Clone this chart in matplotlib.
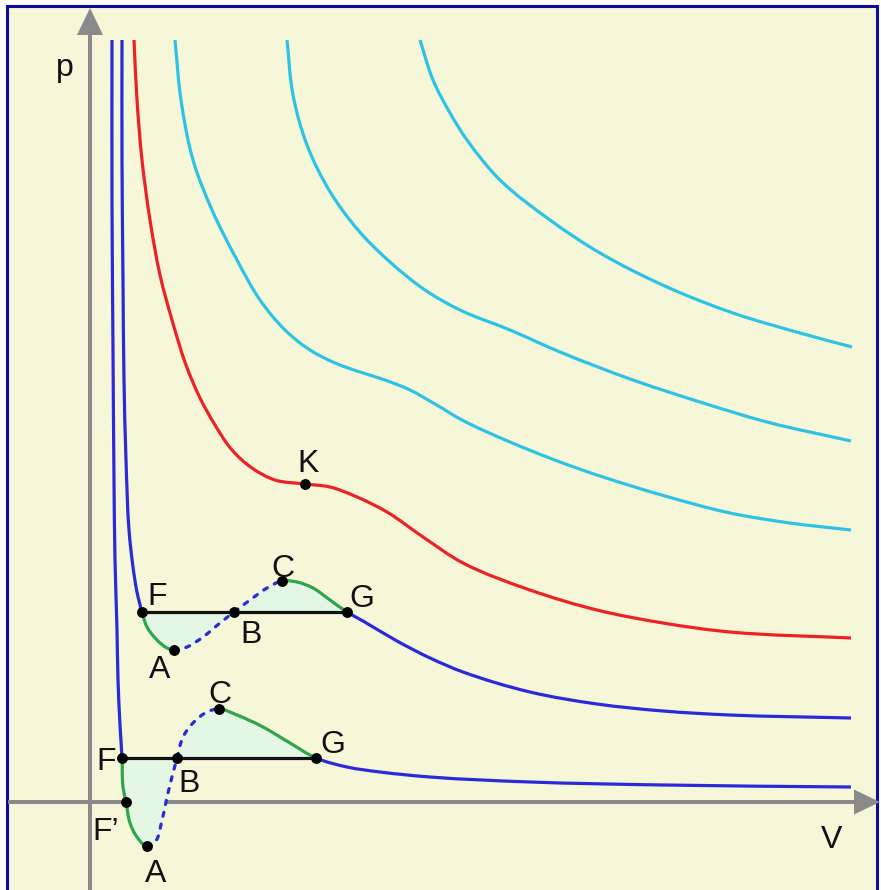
import numpy as np
import matplotlib
matplotlib.use("Agg")
import matplotlib.pyplot as plt
from matplotlib.path import Path
from matplotlib.patches import PathPatch, Rectangle

plt.rcParams['font.family'] = ['Liberation Sans', 'DejaVu Sans']

# ---------------------------------------------------------------------------
# Isotherms of a real gas in the (V, p) plane (origin at the axis crossing).
# ---------------------------------------------------------------------------

# supercritical isotherms (cyan), hottest first
hot3_V = [330, 343, 360, 377, 410, 460, 510, 577, 643, 710, 762]
hot3_p = [762, 722, 689, 662, 622, 582, 549, 515, 489, 469, 455]

hot2_V = [197, 203, 217, 239, 268, 300, 335, 370, 420, 470, 543, 610, 677, 761]
hot2_p = [762, 707, 657, 612, 572, 540, 512, 492, 472, 450, 422, 400, 380, 361]

hot1_V = [85, 91, 103, 122, 147, 170, 195, 220, 245, 270, 295, 320, 345, 372,
          420, 470, 510, 575, 640, 700, 761]
hot1_p = [762, 702, 642, 592, 542, 502, 472, 452, 439, 430, 422, 412, 398, 382,
          360, 340, 326, 306, 289, 279, 272]

# critical isotherm (red) with the critical point K
crit_V = [44, 47, 52, 60, 70, 82, 96, 110, 125, 142, 162, 185, 215,
          240, 267, 297, 333, 373, 440, 507, 573, 640, 761]
crit_p = [762, 702, 642, 582, 527, 482, 437, 404, 377, 352, 334, 322, 318,
          315, 305, 290, 265, 239, 212, 192, 179, 170, 164]
K_index = 12

# subcritical isotherm, upper (blue): liquid, metastable liquid F-A,
# unstable A-B-C, metastable vapour C-G, vapour
up_liq_V = [32, 32, 33, 34, 36, 39, 43, 47, 52]
up_liq_p = [762, 642, 522, 422, 342, 272, 235, 210, 190]
up_mliq_V = [52, 57, 67, 77, 84]
up_mliq_p = [190, 175, 162, 154, 152]
up_unst_V = [84, 97, 113, 130, 144, 160, 177, 192]
up_unst_p = [152, 155, 165, 179, 190, 202, 214, 221]
up_B_index = 4
up_mvap_V = [192, 207, 223, 240, 257]
up_mvap_p = [221, 220, 214, 202, 190]
up_gas_V = [257, 273, 307, 340, 373, 440, 507, 573, 640, 761]
up_gas_p = [190, 181, 161, 144, 130, 110, 98, 91, 87, 84]

# subcritical isotherm, lower (blue); F' is where it crosses p = 0
lo_liq_V = [22, 22, 23, 24, 25, 27, 28, 30, 32]
lo_liq_p = [762, 602, 452, 322, 242, 172, 122, 77, 44]
lo_mliq_V = [32, 33, 36, 40, 47, 57]
lo_mliq_p = [44, 15, 0, -21, -35, -44]
lo_Fp_index = 2
lo_unst_V = [57, 65, 72, 78, 87, 93, 103, 117, 129]
lo_unst_p = [-44, -40, -18, 9, 44, 65, 79, 90, 93]
lo_B_index = 4
lo_mvap_V = [129, 147, 173, 200, 226]
lo_mvap_p = [93, 87, 75, 59, 44]
lo_gas_V = [226, 257, 290, 340, 440, 573, 761]
lo_gas_p = [44, 35, 30, 25, 20, 17, 15]

# colours
BG = '#f6f6d8'
FRAME = '#0b0b9e'
AXIS = '#8a8a8a'
CYAN = '#2ec3e4'
RED = '#ec2226'
BLUE = '#2a2ad8'
GREEN = '#2fa54e'
SHADE = '#e3f7e4'

LW = 2.3
FS = 23


def controls(V, p):
    """Bezier control points for a smooth curve through the points."""
    P = np.column_stack([V, p]).astype(float)
    n = len(P)
    tang = np.zeros_like(P)
    for i in range(n):
        a = P[i] - P[i - 1] if i > 0 else None
        b = P[i + 1] - P[i] if i < n - 1 else None
        if a is None:
            t = b
        elif b is None:
            t = a
        else:
            t = a / np.linalg.norm(a) + b / np.linalg.norm(b)
        tang[i] = t / np.linalg.norm(t)
    c1, c2 = [], []
    for i in range(n - 1):
        d = np.linalg.norm(P[i + 1] - P[i]) / 3.0
        c1.append(P[i] + tang[i] * d)
        c2.append(P[i + 1] - tang[i + 1] * d)
    return P, c1, c2


def sub_path(curve, i0, i1):
    P, c1, c2 = curve
    verts = [P[i0]]
    codes = [Path.MOVETO]
    for i in range(i0, i1):
        verts += [c1[i], c2[i], P[i + 1]]
        codes += [Path.CURVE4] * 3
    return verts, codes


def stroke(ax, curve, i0, i1, color, dashed=False, z=4):
    verts, codes = sub_path(curve, i0, i1)
    patch = PathPatch(Path(verts, codes), fill=False, edgecolor=color,
                      linewidth=LW, zorder=z)
    if dashed:
        patch.set_linestyle((0, (1.3, 2.5)))
        patch.set_capstyle('round')
    else:
        patch.set_capstyle('butt')
    ax.add_patch(patch)


def subcritical(ax, parts, B_index, extra_dot=None):
    liq, mliq, unst, mvap, gas = parts
    V = list(liq[0]) + list(mliq[0][1:]) + list(unst[0][1:]) + list(mvap[0][1:]) + list(gas[0][1:])
    p = list(liq[1]) + list(mliq[1][1:]) + list(unst[1][1:]) + list(mvap[1][1:]) + list(gas[1][1:])
    iF = len(liq[0]) - 1
    iA = iF + len(mliq[0]) - 1
    iC = iA + len(unst[0]) - 1
    iG = iC + len(mvap[0]) - 1
    iE = len(V) - 1
    curve = controls(V, p)
    P = curve[0]

    # shaded lobes between the loop and the F-G tie line
    verts, codes = sub_path(curve, iF, iG)
    verts = verts + [P[iF], P[iF]]
    codes = codes + [Path.LINETO, Path.CLOSEPOLY]
    ax.add_patch(PathPatch(Path(verts, codes), facecolor=SHADE,
                           edgecolor='none', zorder=2))

    stroke(ax, curve, 0, iF, BLUE)
    stroke(ax, curve, iF, iA, GREEN)
    stroke(ax, curve, iA, iC, BLUE, dashed=True)
    stroke(ax, curve, iC, iG, GREEN)
    stroke(ax, curve, iG, iE, BLUE)

    ax.plot([P[iF][0], P[iG][0]], [P[iF][1], P[iG][1]], color='#111111',
            lw=LW, solid_capstyle='butt', zorder=5)
    pts = {'F': P[iF], 'A': P[iA], 'B': P[iA + B_index], 'C': P[iC], 'G': P[iG]}
    if extra_dot is not None:
        pts["F\u2019"] = P[iF + extra_dot]
    for q in pts.values():
        ax.plot(q[0], q[1], 'o', color='black', ms=6.8, zorder=6)
    return pts


fig = plt.figure(figsize=(8.81, 8.90), dpi=100)
fig.patch.set_facecolor('white')
ax = fig.add_axes([0, 0, 1, 1])
ax.set_xlim(-90, 791)
ax.set_ylim(-88, 802)
ax.axis('off')

ax.add_patch(Rectangle((-83.5, -120), 870.5, 916, facecolor=BG,
                       edgecolor=FRAME, linewidth=2.2, zorder=0))

# coordinate axes
ax.arrow(0, -88, 0, 882, width=4, head_width=26, head_length=27,
         length_includes_head=True, facecolor=AXIS, edgecolor='none', zorder=1)
ax.arrow(-82, 0, 872, 0, width=4, head_width=25, head_length=26,
         length_includes_head=True, facecolor=AXIS, edgecolor='none', zorder=1)
ax.text(-25, 726, 'p', fontsize=FS, ha='center', va='baseline', color='#111111')
ax.text(742, -46, 'V', fontsize=FS, ha='center', va='baseline', color='#111111')

# supercritical isotherms
for V, p in [(hot3_V, hot3_p), (hot2_V, hot2_p), (hot1_V, hot1_p)]:
    c = controls(V, p)
    stroke(ax, c, 0, len(V) - 1, CYAN)

# critical isotherm
crit = controls(crit_V, crit_p)
stroke(ax, crit, 0, len(crit_V) - 1, RED)
K = crit[0][K_index]
ax.plot(K[0], K[1], 'o', color='black', ms=6.8, zorder=6)
ax.text(K[0] + 3, K[1] + 12, 'K', fontsize=FS, ha='center', va='baseline',
        color='#111111')

# subcritical isotherms
upper = subcritical(ax, [(up_liq_V, up_liq_p), (up_mliq_V, up_mliq_p),
                         (up_unst_V, up_unst_p), (up_mvap_V, up_mvap_p),
                         (up_gas_V, up_gas_p)], up_B_index)
lower = subcritical(ax, [(lo_liq_V, lo_liq_p), (lo_mliq_V, lo_mliq_p),
                         (lo_unst_V, lo_unst_p), (lo_mvap_V, lo_mvap_p),
                         (lo_gas_V, lo_gas_p)], lo_B_index, extra_dot=lo_Fp_index)

upper_offsets = {'F': (15, 7), 'A': (-14, -28), 'B': (17, -31),
                 'C': (1, 4), 'G': (15, 5)}
lower_offsets = {'F': (-16, -12), 'A': (9, -36), 'B': (12, -34),
                 'C': (1, 6), 'G': (17, 5), "F\u2019": (-20, -38)}
for pts, offs in [(upper, upper_offsets), (lower, lower_offsets)]:
    for name, (dx, dy) in offs.items():
        q = pts[name]
        ax.text(q[0] + dx, q[1] + dy, name, fontsize=FS, ha='center',
                va='baseline', color='#111111', zorder=7)

fig.savefig('out.png', dpi=100, facecolor=fig.get_facecolor())
